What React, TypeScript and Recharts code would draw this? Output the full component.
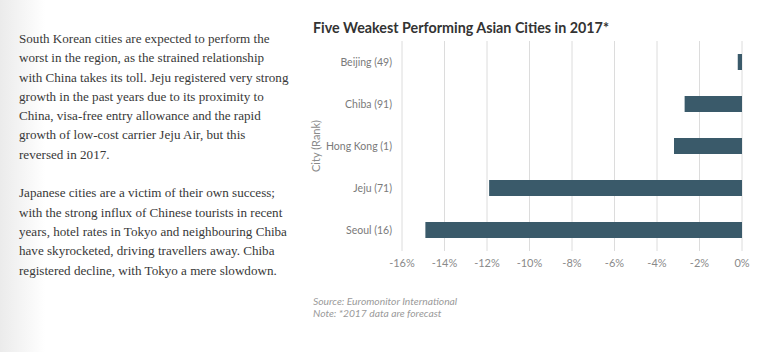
import { BarChart, Bar, XAxis, YAxis, CartesianGrid } from "recharts";

const cities = ["Beijing (49)", "Chiba (91)", "Hong Kong (1)", "Jeju (71)", "Seoul (16)"];
const growth = [-0.2, -2.7, -3.2, -11.9, -14.9];
const xTicks = [-16, -14, -12, -10, -8, -6, -4, -2, 0];

const para1 = [
  "South Korean cities are expected to perform the",
  "worst in the region, as the strained relationship",
  "with China takes its toll. Jeju registered very strong",
  "growth in the past years due to its proximity to",
  "China, visa-free entry allowance and the rapid",
  "growth of low-cost carrier Jeju Air, but this",
  "reversed in 2017.",
];
const para2 = [
  "Japanese cities are a victim of their own success;",
  "with the strong influx of Chinese tourists in recent",
  "years, hotel rates in Tokyo and neighbouring Chiba",
  "have skyrocketed, driving travellers away. Chiba",
  "registered decline, with Tokyo a mere slowdown.",
];

const data = cities.map((city, i) => ({ city, value: growth[i] }));

const axisFont = "Lato, sans-serif";

export default function App() {
  return (
    <div
      style={{
        position: "absolute",
        left: 0,
        top: 0,
        width: 766,
        height: 352,
        background: "linear-gradient(to right, #ebebeb 0px, #ffffff 45px)",
        overflow: "hidden",
      }}
    >
      {/* article text */}
      <div
        style={{
          position: "absolute",
          left: 19,
          top: 29,
          fontFamily: "'Liberation Serif', serif",
          fontSize: 13.1,
          lineHeight: "19.3px",
          color: "#383838",
          whiteSpace: "nowrap",
        }}
      >
        {para1.map((l, i) => (
          <div key={i}>{l}</div>
        ))}
        <div style={{ height: 19.3 }} />
        {para2.map((l, i) => (
          <div key={i}>{l}</div>
        ))}
      </div>

      <div
        style={{
          position: "absolute",
          left: 313,
          top: 19,
          fontFamily: "Lato, sans-serif",
          fontWeight: 700,
          fontSize: 14.3,
          color: "#333",
          whiteSpace: "nowrap",
        }}
      >
        Five Weakest Performing Asian Cities in 2017*
      </div>

      <div style={{ position: "absolute", left: 300, top: 0 }}>
        <BarChart
          width={466}
          height={352}
          layout="vertical"
          data={data}
          margin={{ top: 41, right: 24, bottom: 71, left: 0 }}
          barSize={16}
        >
          <CartesianGrid horizontal={false} stroke="#dcdcdc" />
          <XAxis
            type="number"
            domain={[-16, 0]}
            ticks={xTicks}
            tickFormatter={(v) => `${v}%`}
            axisLine={false}
            tickLine={false}
            height={30}
            tick={{ fontSize: 11, fill: "#8a8a8a", fontFamily: axisFont }}
          />
          <YAxis
            type="category"
            dataKey="city"
            width={102}
            axisLine={false}
            tickLine={false}
            tickSize={8}
            tickMargin={2}
            tick={{ fontSize: 10.5, fill: "#7a7a7a", fontFamily: axisFont }}
            label={({ viewBox }: any) => {
              const cx = viewBox.x + 15;
              const cy = viewBox.y + viewBox.height / 2;
              return (
                <text
                  x={cx}
                  y={cy}
                  transform={`rotate(-90 ${cx} ${cy})`}
                  textAnchor="middle"
                  dominantBaseline="central"
                  fontSize={11}
                  fill="#8a8a8a"
                  fontFamily={axisFont}
                >
                  City (Rank)
                </text>
              );
            }}
          />
          <Bar dataKey="value" fill="#3a5a6a" isAnimationActive={false} />
        </BarChart>
      </div>

      <div
        style={{
          position: "absolute",
          left: 313,
          top: 295,
          fontFamily: "Lato, sans-serif",
          fontStyle: "italic",
          fontWeight: 400,
          fontSize: 10.3,
          lineHeight: "12px",
          color: "#9a9a9a",
        }}
      >
        <div>Source: Euromonitor International</div>
        <div>Note: *2017 data are forecast</div>
      </div>
    </div>
  );
}
